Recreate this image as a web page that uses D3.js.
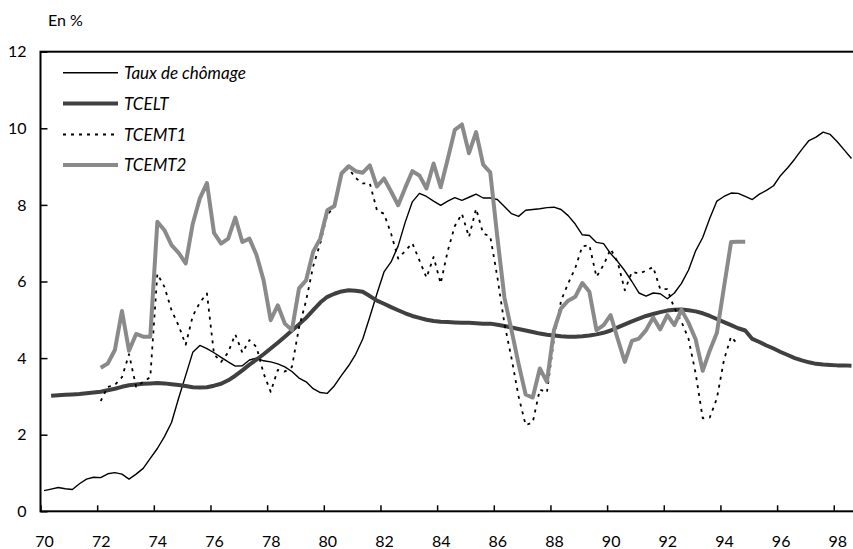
<!DOCTYPE html>
<html>
<head>
<meta charset="utf-8">
<script src="https://cdn.jsdelivr.net/npm/d3@7"></script>
<style>
	body { margin: 0; background: #fff; }
	svg { display: block; font-family: Lato, 'Open Sans', sans-serif; }
</style>
</head>
<body>
<svg id="chart" width="853" height="549"></svg>
<script>
// quarterly data, index 0 = 1970 T1
const yearLabels = ['70', '72', '74', '76', '78', '80', '82', '84', '86', '88', '90', '92', '94', '96', '98']
const yTicks = [0, 2, 4, 6, 8, 10, 12]
const nQuarters = 115

const chomage = [
	0.54, 0.58, 0.62, 0.59, 0.57, 0.72, 0.84, 0.89, 0.88, 0.98,
	1.01, 0.97, 0.84, 0.97, 1.12, 1.38, 1.64, 1.95, 2.32, 2.95,
	3.55, 4.15, 4.33, 4.25, 4.14, 4.02, 3.9, 3.79, 3.8, 3.95,
	4.0, 3.93, 3.9, 3.85, 3.77, 3.65, 3.48, 3.38, 3.2, 3.1,
	3.08, 3.28, 3.55, 3.8, 4.1, 4.5, 5.08, 5.68, 6.25, 6.51,
	6.93, 7.55, 8.08, 8.3, 8.22, 8.1, 7.99, 8.1, 8.19, 8.12,
	8.2, 8.28, 8.18, 8.18, 8.14, 7.96, 7.77, 7.7, 7.86, 7.88,
	7.9, 7.93, 7.94, 7.88, 7.72, 7.5, 7.22, 7.2, 7.02, 6.99,
	6.73, 6.52, 6.28, 6.0, 5.7, 5.62, 5.7, 5.68, 5.55, 5.7,
	5.95, 6.3, 6.8, 7.15, 7.65, 8.1, 8.22, 8.31, 8.3, 8.22,
	8.14, 8.28, 8.38, 8.5, 8.77, 8.97, 9.2, 9.45, 9.68, 9.77,
	9.9, 9.84, 9.65, 9.43, 9.21
]

// TCELT starts in 1970 T2
const tceltStart = 1

const tcelt = [
	3.02, 3.03, 3.04, 3.05, 3.06, 3.08, 3.1, 3.12, 3.16,
	3.2, 3.25, 3.29, 3.31, 3.33, 3.34, 3.35, 3.34, 3.32, 3.3,
	3.27, 3.24, 3.23, 3.24, 3.28, 3.33, 3.42, 3.54, 3.68, 3.83,
	3.96, 4.1, 4.25, 4.4, 4.56, 4.72, 4.88, 5.05, 5.25, 5.45,
	5.6, 5.68, 5.74, 5.77, 5.76, 5.73, 5.62, 5.5, 5.42, 5.33,
	5.25, 5.17, 5.1, 5.05, 5.0, 4.97, 4.95, 4.94, 4.93, 4.92,
	4.92, 4.91, 4.9, 4.9, 4.87, 4.84, 4.8, 4.76, 4.72, 4.68,
	4.64, 4.61, 4.59, 4.57, 4.56, 4.56, 4.57, 4.59, 4.62, 4.66,
	4.72, 4.8, 4.88, 4.96, 5.03, 5.1, 5.15, 5.2, 5.24, 5.26,
	5.27, 5.25, 5.22, 5.17, 5.1, 5.02, 4.94, 4.86, 4.78, 4.72,
	4.5, 4.42, 4.33, 4.25, 4.16, 4.08, 4.0, 3.94, 3.89, 3.85,
	3.83, 3.82, 3.81, 3.81, 3.8
]

// TCEMT series start in 1972 T1
const tcemtStart = 8

const tcemt1 = [
	2.88, 3.25, 3.3, 3.5, 4.1, 3.25, 3.38, 3.5, 6.2, 5.86,
	5.25, 4.85, 4.35, 5.1, 5.45, 5.69, 4.1, 3.9, 4.15, 4.62,
	4.14, 4.47, 4.29, 3.6, 3.12, 3.69, 3.65, 3.77, 4.8, 5.5,
	6.4, 7.0, 7.75, 7.95, 8.85, 8.95, 8.7, 8.56, 8.56, 7.86,
	7.77, 7.25, 6.6, 6.8, 7.0, 6.55, 6.1, 6.64, 5.95, 6.8,
	7.45, 7.77, 7.16, 7.9, 7.25, 7.18, 6.12, 4.9, 4.0, 3.0,
	2.25, 2.32, 3.18, 3.1, 4.5, 5.5, 5.95, 6.35, 6.92, 6.95,
	6.12, 6.43, 6.85, 6.5, 5.77, 6.25, 6.21, 6.28, 6.38, 5.8,
	5.8, 5.3, 4.95, 4.5, 3.6, 2.43, 2.45, 2.95, 3.95, 4.56,
	4.35
]

const tcemt2 = [
	3.75, 3.86, 4.21, 5.23, 4.19, 4.63, 4.56, 4.56, 7.56, 7.34,
	6.95, 6.75, 6.47, 7.51, 8.17, 8.57, 7.27, 6.99, 7.12, 7.67,
	7.03, 7.12, 6.69, 6.03, 4.99, 5.38, 4.9, 4.73, 5.82, 6.03,
	6.78, 7.12, 7.86, 7.97, 8.82, 9.01, 8.88, 8.84, 9.03, 8.48,
	8.69, 8.35, 7.99, 8.45, 8.88, 8.77, 8.43, 9.08, 8.46, 9.2,
	9.96, 10.1, 9.35, 9.9, 9.05, 8.85, 7.16, 5.58, 4.73, 3.85,
	3.05, 2.97, 3.73, 3.38, 4.73, 5.3, 5.5, 5.6, 5.96, 5.73,
	4.73, 4.86, 5.12, 4.5, 3.9, 4.45, 4.51, 4.73, 5.06, 4.75,
	5.12, 4.86, 5.26, 4.92, 4.49, 3.67, 4.2, 4.66, 5.85, 7.03,
	7.04, 7.04
]

const series = [
	{ name: 'Taux de chômage', values: chomage, start: 0, color: '#000', width: 1.4, dash: null },
	{ name: 'TCELT', values: tcelt, start: tceltStart, color: '#404040', width: 4, dash: null },
	{ name: 'TCEMT1', values: tcemt1, start: tcemtStart, color: '#000', width: 1.8, dash: '3,5' },
	{ name: 'TCEMT2', values: tcemt2, start: tcemtStart, color: '#8a8a8a', width: 4, dash: null }
]

const svg = d3.select('#chart')

const x = d3.scaleLinear().domain([0, nQuarters]).range([40.5, 855])
const y = d3.scaleLinear().domain([0, 12]).range([511.3, 51.7])

// series
series.forEach(s => {
	const line = d3
		.line()
		.x((d, i) => x(s.start + i + 0.5))
		.y(d => y(d))

	svg.append('path')
		.datum(s.values)
		.attr('d', line)
		.attr('fill', 'none')
		.attr('stroke', s.color)
		.attr('stroke-width', s.width)
		.attr('stroke-linejoin', 'round')
		.attr('stroke-dasharray', s.dash)
})

// frame
svg.append('rect')
	.attr('x', x(0))
	.attr('y', y(12))
	.attr('width', x(nQuarters) - x(0))
	.attr('height', y(0) - y(12))
	.attr('fill', 'none')
	.attr('stroke', '#000')
	.attr('stroke-width', 2)

// y axis
const yAxis = svg
	.append('g')
	.attr('transform', `translate(${x(0)},0)`)
	.call(
		d3.axisLeft(y)
			.tickValues(yTicks)
			.tickSize(-7)
			.tickPadding(14)
	)

// x axis ticks at year boundaries, labels centred on first quarter
const xTicks = svg
	.append('g')
	.attr('transform', `translate(0,${y(0)})`)
	.call(
		d3.axisBottom(x)
			.tickValues(d3.range(0, nQuarters, 8))
			.tickSize(-6)
			.tickFormat('')
	)

const xLabels = svg
	.append('g')
	.attr('transform', `translate(0,${y(0)})`)
	.call(
		d3.axisBottom(x)
			.tickValues(d3.range(0.5, nQuarters, 8))
			.tickSize(0)
			.tickPadding(24)
			.tickFormat((d, i) => yearLabels[i])
	)

svg.selectAll('.domain').remove()
svg.selectAll('.tick line').attr('stroke', '#000').attr('stroke-width', 1.5)
svg.selectAll('.tick text')
	.attr('fill', '#000')
	.style('font-size', '16px')
	.style('font-family', 'Lato, sans-serif')

svg.append('text')
	.attr('x', 48)
	.attr('y', 26)
	.style('font-size', '16px')
	.text('En %')

// legend
const legendY = [72.7, 103.5, 134.5, 165]
const legend = svg
	.selectAll('.legend')
	.data(series)
	.enter()
	.append('g')
	.attr('class', 'legend')
	.attr('transform', (d, i) => `translate(0,${legendY[i]})`)

legend.append('line')
	.attr('x1', 63)
	.attr('x2', 118)
	.attr('stroke', d => d.color)
	.attr('stroke-width', d => d.width)
	.attr('stroke-dasharray', d => d.dash)

legend.append('text')
	.attr('x', 124)
	.attr('dy', '0.36em')
	.style('font-size', '17px')
	.style('font-style', 'italic')
	.text(d => d.name)
</script>
</body>
</html>
